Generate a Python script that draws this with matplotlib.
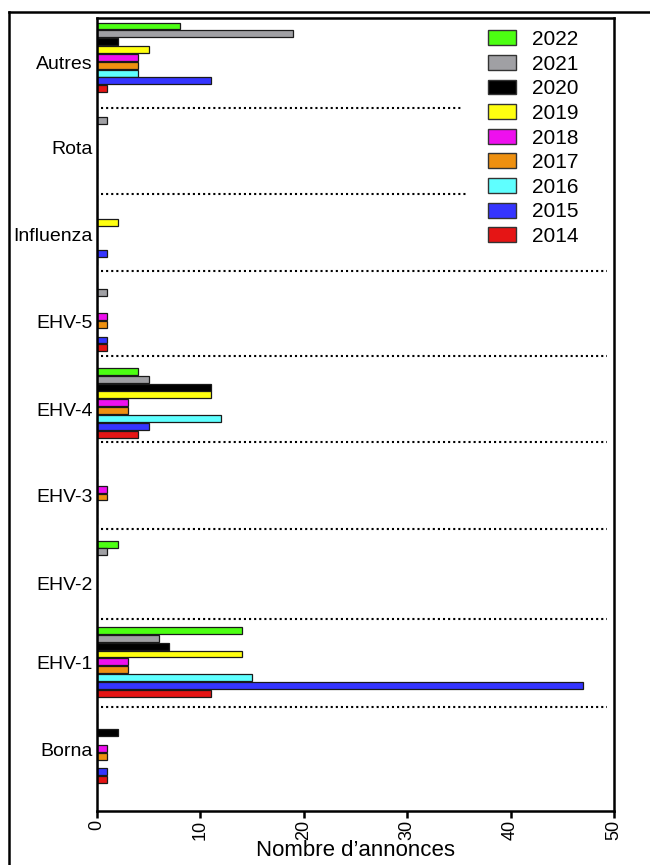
import matplotlib
matplotlib.use("Agg")
import matplotlib.pyplot as plt
from matplotlib.patches import Patch
import numpy as np

plt.rcParams['font.family'] = ['Liberation Sans', 'DejaVu Sans']

categories = ["Autres", "Rota", "Influenza", "EHV-5", "EHV-4", "EHV-3", "EHV-2", "EHV-1", "Borna"]
years = ["2022", "2021", "2020", "2019", "2018", "2017", "2016", "2015", "2014"]
colors = ["#4CFF12", "#A0A0A4", "#000000", "#FFFF10", "#EE10EE", "#EE9010", "#5FFFFF", "#3535FF", "#E51515"]

# values per year, one entry per category (same order as categories)
v2022 = [8, 0, 0, 0, 4, 0, 2, 14, 0]
v2021 = [19, 1, 0, 1, 5, 0, 1, 6, 0]
v2020 = [2, 0, 0, 0, 11, 0, 0, 7, 2]
v2019 = [5, 0, 2, 0, 11, 0, 0, 14, 0]
v2018 = [4, 0, 0, 1, 3, 1, 0, 3, 1]
v2017 = [4, 0, 0, 1, 3, 1, 0, 3, 1]
v2016 = [4, 0, 0, 0, 12, 0, 0, 15, 0]
v2015 = [11, 0, 1, 1, 5, 0, 0, 47, 1]
v2014 = [1, 0, 0, 1, 4, 0, 0, 11, 1]
series = [v2022, v2021, v2020, v2019, v2018, v2017, v2016, v2015, v2014]

xticks = [0, 10, 20, 30, 40, 50]

W, H = 650, 865
ax_left, ax_right, ax_top, ax_bottom = 97, 614, 18, 811
fig = plt.figure(figsize=(W/100, H/100), dpi=100)
ax = fig.add_axes([ax_left/W, 1-ax_bottom/H, (ax_right-ax_left)/W, (ax_bottom-ax_top)/H])

group_step = 11
n = len(categories)
for k, (vals, col, yr) in enumerate(zip(series, colors, years)):
    ypos = np.arange(n) * group_step + k
    ax.barh(ypos, vals, height=0.88, color=col, edgecolor="#1a1a1a", linewidth=0.9, label=yr)

# dotted separators between groups
sep_offsets = [0.9, 0.9, -0.3, -0.5, -0.5, -0.4, 0.0, 0.25]
sep_ends = [35.4, 35.7, 49.3, 49.3, 49.3, 49.3, 49.3, 49.3]
for g in range(n - 1):
    yy = g * group_step + 9.5 + sep_offsets[g]
    ax.plot([0.35, sep_ends[g]], [yy, yy], color="black", linewidth=1.5,
            linestyle=(0, (1, 1.45)), solid_capstyle='butt')

label_offsets = [0.6, 0.5, 0.5, 0.6, 0.8, 0.8, 1.0, 0.1, 0.2]
slot = 7.85
ax.set_ylim((ax_bottom-26)/slot, (ax_top-26)/slot)
ax.set_xlim(0, 50)
ax.set_yticks(np.arange(n) * group_step + 4 + np.array(label_offsets))
ax.set_yticklabels(categories, fontsize=14)
ax.tick_params(axis='y', length=0, pad=3)
ax.set_xticks(xticks)
ax.set_xticklabels([str(t) for t in xticks], rotation=90, fontsize=13)
ax.tick_params(axis='x', length=5, width=1.8, pad=1.5)
ax.set_xlabel("Nombre d\u2019annonces", fontsize=16, va='top')
ax.xaxis.set_label_coords(0.5, -(839.5-ax_bottom)/(ax_bottom-ax_top))
for s in ax.spines.values():
    s.set_linewidth(1.8)

handles = [Patch(facecolor=c, edgecolor="#333333", linewidth=1.0, label=y) for c, y in zip(colors, years)]
leg = ax.legend(handles=handles, loc="upper left",
                bbox_to_anchor=((488-ax_left)/(ax_right-ax_left), 1 - (30-ax_top)/(ax_bottom-ax_top)),
                frameon=False, fontsize=15, handlelength=1.35, handleheight=0.72,
                handletextpad=0.75, labelspacing=0.27, borderaxespad=0, borderpad=0)

# outer frame
fig.add_artist(plt.Line2D([9/W, 9/W], [0, 1-12/H], transform=fig.transFigure, color="black", linewidth=1.8))
fig.add_artist(plt.Line2D([9/W, 1], [1-12/H, 1-12/H], transform=fig.transFigure, color="black", linewidth=1.8))

fig.savefig("out.png", dpi=100)
